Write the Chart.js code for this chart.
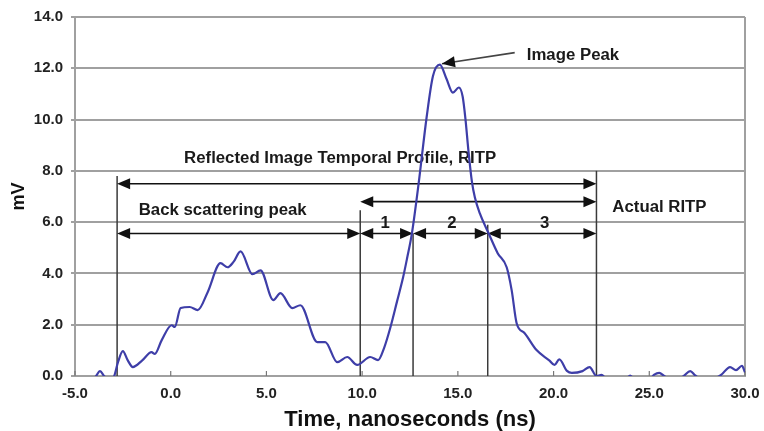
<!DOCTYPE html>
<html><head><meta charset="utf-8">
<script src="https://cdn.jsdelivr.net/npm/chart.js@4.4.1/dist/chart.umd.min.js"></script>
<style>html,body{margin:0;padding:0;background:#fff;}canvas{display:block;}</style>
</head><body>
<canvas id="c" width="764" height="431"></canvas>
<script>
// ---- data ----
const timeNs = [-4.4, -3.9, -3.7, -3.48, -3.2, -2.95, -2.75, -2.5, -2.25, -1.98,
  -1.5, -1.0, -0.83, -0.47, 0.05, 0.21, 0.52, 0.99, 1.41, 1.93,
  2.6, 2.97, 3.28, 3.65, 4.27, 4.69, 5.36, 5.73, 6.35, 6.77,
  7.66, 8.07, 8.7, 9.22, 9.74, 10.42, 10.83, 11.15, 11.46, 11.82,
  12.14, 12.35, 12.6, 12.95, 13.37, 13.7, 14.06, 14.4, 14.74, 15.05,
  15.25, 15.4, 15.55, 15.73, 15.89, 16.15, 16.61, 17.08, 17.55, 17.81,
  18.07, 18.49, 19.11, 19.79, 20.05, 20.3, 20.7, 20.95, 21.51, 21.88,
  22.24, 22.5, 22.9, 23.7, 24.0, 24.3, 25.0, 25.26, 25.52, 25.78,
  26.3, 26.8, 27.14, 27.4, 27.9, 28.4, 28.75, 29.22, 29.53, 29.84, 30.0];
const signalMv = [-0.3, 0.0, 0.19, 0.0, -0.25, 0.0, 0.55, 0.97, 0.62, 0.35,
  0.6, 0.93, 0.86, 1.4, 1.98, 1.91, 2.65, 2.69, 2.57, 3.27,
  4.4, 4.24, 4.45, 4.86, 3.97, 4.12, 2.96, 3.23, 2.65, 2.76,
  1.32, 1.32, 0.54, 0.74, 0.43, 0.74, 0.62, 1.1, 1.85, 2.9,
  3.85, 4.6, 5.56, 7.5, 10.1, 11.7, 12.14, 11.6, 11.05, 11.25,
  10.9, 10.0, 8.8, 7.6, 6.96, 6.34, 5.56, 4.79, 4.24, 3.35,
  2.06, 1.67, 1.01, 0.6, 0.43, 0.65, 0.2, 0.12, 0.19, 0.35,
  0.0, 0.04, -0.2, -0.2, 0.02, -0.2, -0.15, 0.05, 0.12, 0.0,
  -0.2, 0.0, 0.19, 0.02, -0.2, -0.1, 0.04, 0.35, 0.23, 0.4, 0.15];
const xTickValues = [-5, 0, 5, 10, 15, 20, 25, 30];
const yTickValues = [0, 2, 4, 6, 8, 10, 12, 14];
const xTitle = 'Time, nanoseconds (ns)';
const yTitle = 'mV';

// ---- annotations (data units) ----
const markerTimes = [-2.8, 9.9, 12.66, 16.56, 22.24];
const markerTops  = [7.8, 6.46, 5.56, 5.9, 8.0];
const spanFrom = [-2.8, 9.9, -2.8, 9.9, 12.66, 16.56];
const spanTo   = [22.24, 22.24, 9.9, 12.66, 16.56, 22.24];
const spanAt   = [7.5, 6.8, 5.56, 5.56, 5.56, 5.56];
const noteTexts = ['Reflected Image Temporal Profile, RITP', 'Back scattering peak', 'Actual RITP', 'Image Peak', '1', '2', '3'];
const noteX = [8.85, -1.67, 23.07, 18.6, 11.2, 14.69, 19.53];
const noteY = [8.48, 6.46, 6.58, 12.49, 5.95, 5.95, 5.95];
const noteAlign = ['center', 'left', 'left', 'left', 'center', 'center', 'center'];
const pointerFrom = [17.97, 12.61];
const pointerTo = [14.17, 12.18];

const FONT = "'Liberation Sans', Arial, sans-serif";

function arrowHead(ctx, x, y, ang) {
  const L = 13, W = 5.5;
  ctx.save();
  ctx.translate(x, y); ctx.rotate(ang);
  ctx.beginPath(); ctx.moveTo(0, 0); ctx.lineTo(-L, -W); ctx.lineTo(-L, W); ctx.closePath();
  ctx.fill();
  ctx.restore();
}

const annotate = {
  id: 'annotate',
  beforeDatasetsDraw(chart) {
    const {ctx, chartArea: a, scales: {x, y}} = chart;
    ctx.save();
    // right border
    ctx.strokeStyle = '#a0a0a0'; ctx.lineWidth = 2;
    ctx.beginPath(); ctx.moveTo(a.right, a.top); ctx.lineTo(a.right, a.bottom); ctx.stroke();
    // inward x ticks
    ctx.strokeStyle = '#777'; ctx.lineWidth = 1.2;
    xTickValues.forEach(v => {
      const px = x.getPixelForValue(v);
      ctx.beginPath(); ctx.moveTo(px, a.bottom); ctx.lineTo(px, a.bottom - 5); ctx.stroke();
    });
    // vertical markers
    ctx.strokeStyle = '#3a3a3a'; ctx.lineWidth = 1.5;
    markerTimes.forEach((t, i) => {
      const px = x.getPixelForValue(t);
      ctx.beginPath(); ctx.moveTo(px, y.getPixelForValue(0)); ctx.lineTo(px, y.getPixelForValue(markerTops[i])); ctx.stroke();
    });
    // double arrows
    ctx.strokeStyle = '#111'; ctx.fillStyle = '#111'; ctx.lineWidth = 1.6;
    spanFrom.forEach((f, i) => {
      const x1 = x.getPixelForValue(f), x2 = x.getPixelForValue(spanTo[i]), py = y.getPixelForValue(spanAt[i]);
      ctx.beginPath(); ctx.moveTo(x1 + 4, py); ctx.lineTo(x2 - 4, py); ctx.stroke();
      arrowHead(ctx, x1, py, Math.PI);
      arrowHead(ctx, x2, py, 0);
    });
    // image peak pointer
    const fx = x.getPixelForValue(pointerFrom[0]), fy = y.getPixelForValue(pointerFrom[1]);
    const tx = x.getPixelForValue(pointerTo[0]), ty = y.getPixelForValue(pointerTo[1]);
    ctx.strokeStyle = '#444'; ctx.lineWidth = 1.6;
    ctx.beginPath(); ctx.moveTo(fx, fy); ctx.lineTo(tx, ty); ctx.stroke();
    ctx.fillStyle = '#111';
    arrowHead(ctx, tx, ty, Math.atan2(ty - fy, tx - fx));
    // texts
    ctx.fillStyle = '#1a1a1a';
    ctx.font = 'bold 16.8px ' + FONT;
    ctx.textBaseline = 'middle';
    noteTexts.forEach((t, i) => {
      ctx.textAlign = noteAlign[i];
      ctx.fillText(t, x.getPixelForValue(noteX[i]), y.getPixelForValue(noteY[i]));
    });
    ctx.restore();
  }
};

new Chart(document.getElementById('c'), {
  type: 'line',
  data: {
    datasets: [{
      data: timeNs.map((t, i) => ({x: t, y: signalMv[i]})),
      borderColor: '#3e3ea8',
      borderWidth: 2.2,
      pointRadius: 0,
      cubicInterpolationMode: 'monotone',
      fill: false,
      clip: 0
    }]
  },
  options: {
    responsive: false,
    animation: false,
    events: [],
    layout: {padding: {left: 0, right: 19, top: 16, bottom: 0}},
    plugins: {legend: {display: false}, tooltip: {enabled: false}},
    scales: {
      x: {
        type: 'linear', min: -5, max: 30,
        afterBuildTicks: s => { s.ticks = xTickValues.map(v => ({value: v})); },
        afterFit: s => { s.height = 55; s.paddingLeft = 0; s.paddingRight = 0; },
        ticks: {callback: v => Number(v).toFixed(1), color: '#222', padding: 9, maxRotation: 0, autoSkip: false,
          font: {family: FONT, size: 15, weight: 'bold'}},
        grid: {display: true, drawOnChartArea: false, drawTicks: false},
        border: {color: '#a0a0a0', width: 2},
        title: {display: true, text: xTitle, color: '#111', padding: 0,
          font: {family: FONT, size: 22, weight: 'bold', lineHeight: 1}}
      },
      y: {
        type: 'linear', min: 0, max: 14,
        afterBuildTicks: s => { s.ticks = yTickValues.map(v => ({value: v})); },
        afterFit: s => { s.width = 75; },
        ticks: {callback: v => Number(v).toFixed(1), color: '#222', padding: 8,
          font: {family: FONT, size: 15, weight: 'bold'}},
        grid: {color: '#a0a0a0', lineWidth: 2, tickLength: 4, drawTicks: true},
        border: {color: '#a0a0a0', width: 2},
        title: {display: true, text: yTitle, color: '#111', padding: {top: 8, bottom: 0},
          font: {family: FONT, size: 18, weight: 'bold'}}
      }
    }
  },
  plugins: [annotate]
});
</script>
</body></html>
